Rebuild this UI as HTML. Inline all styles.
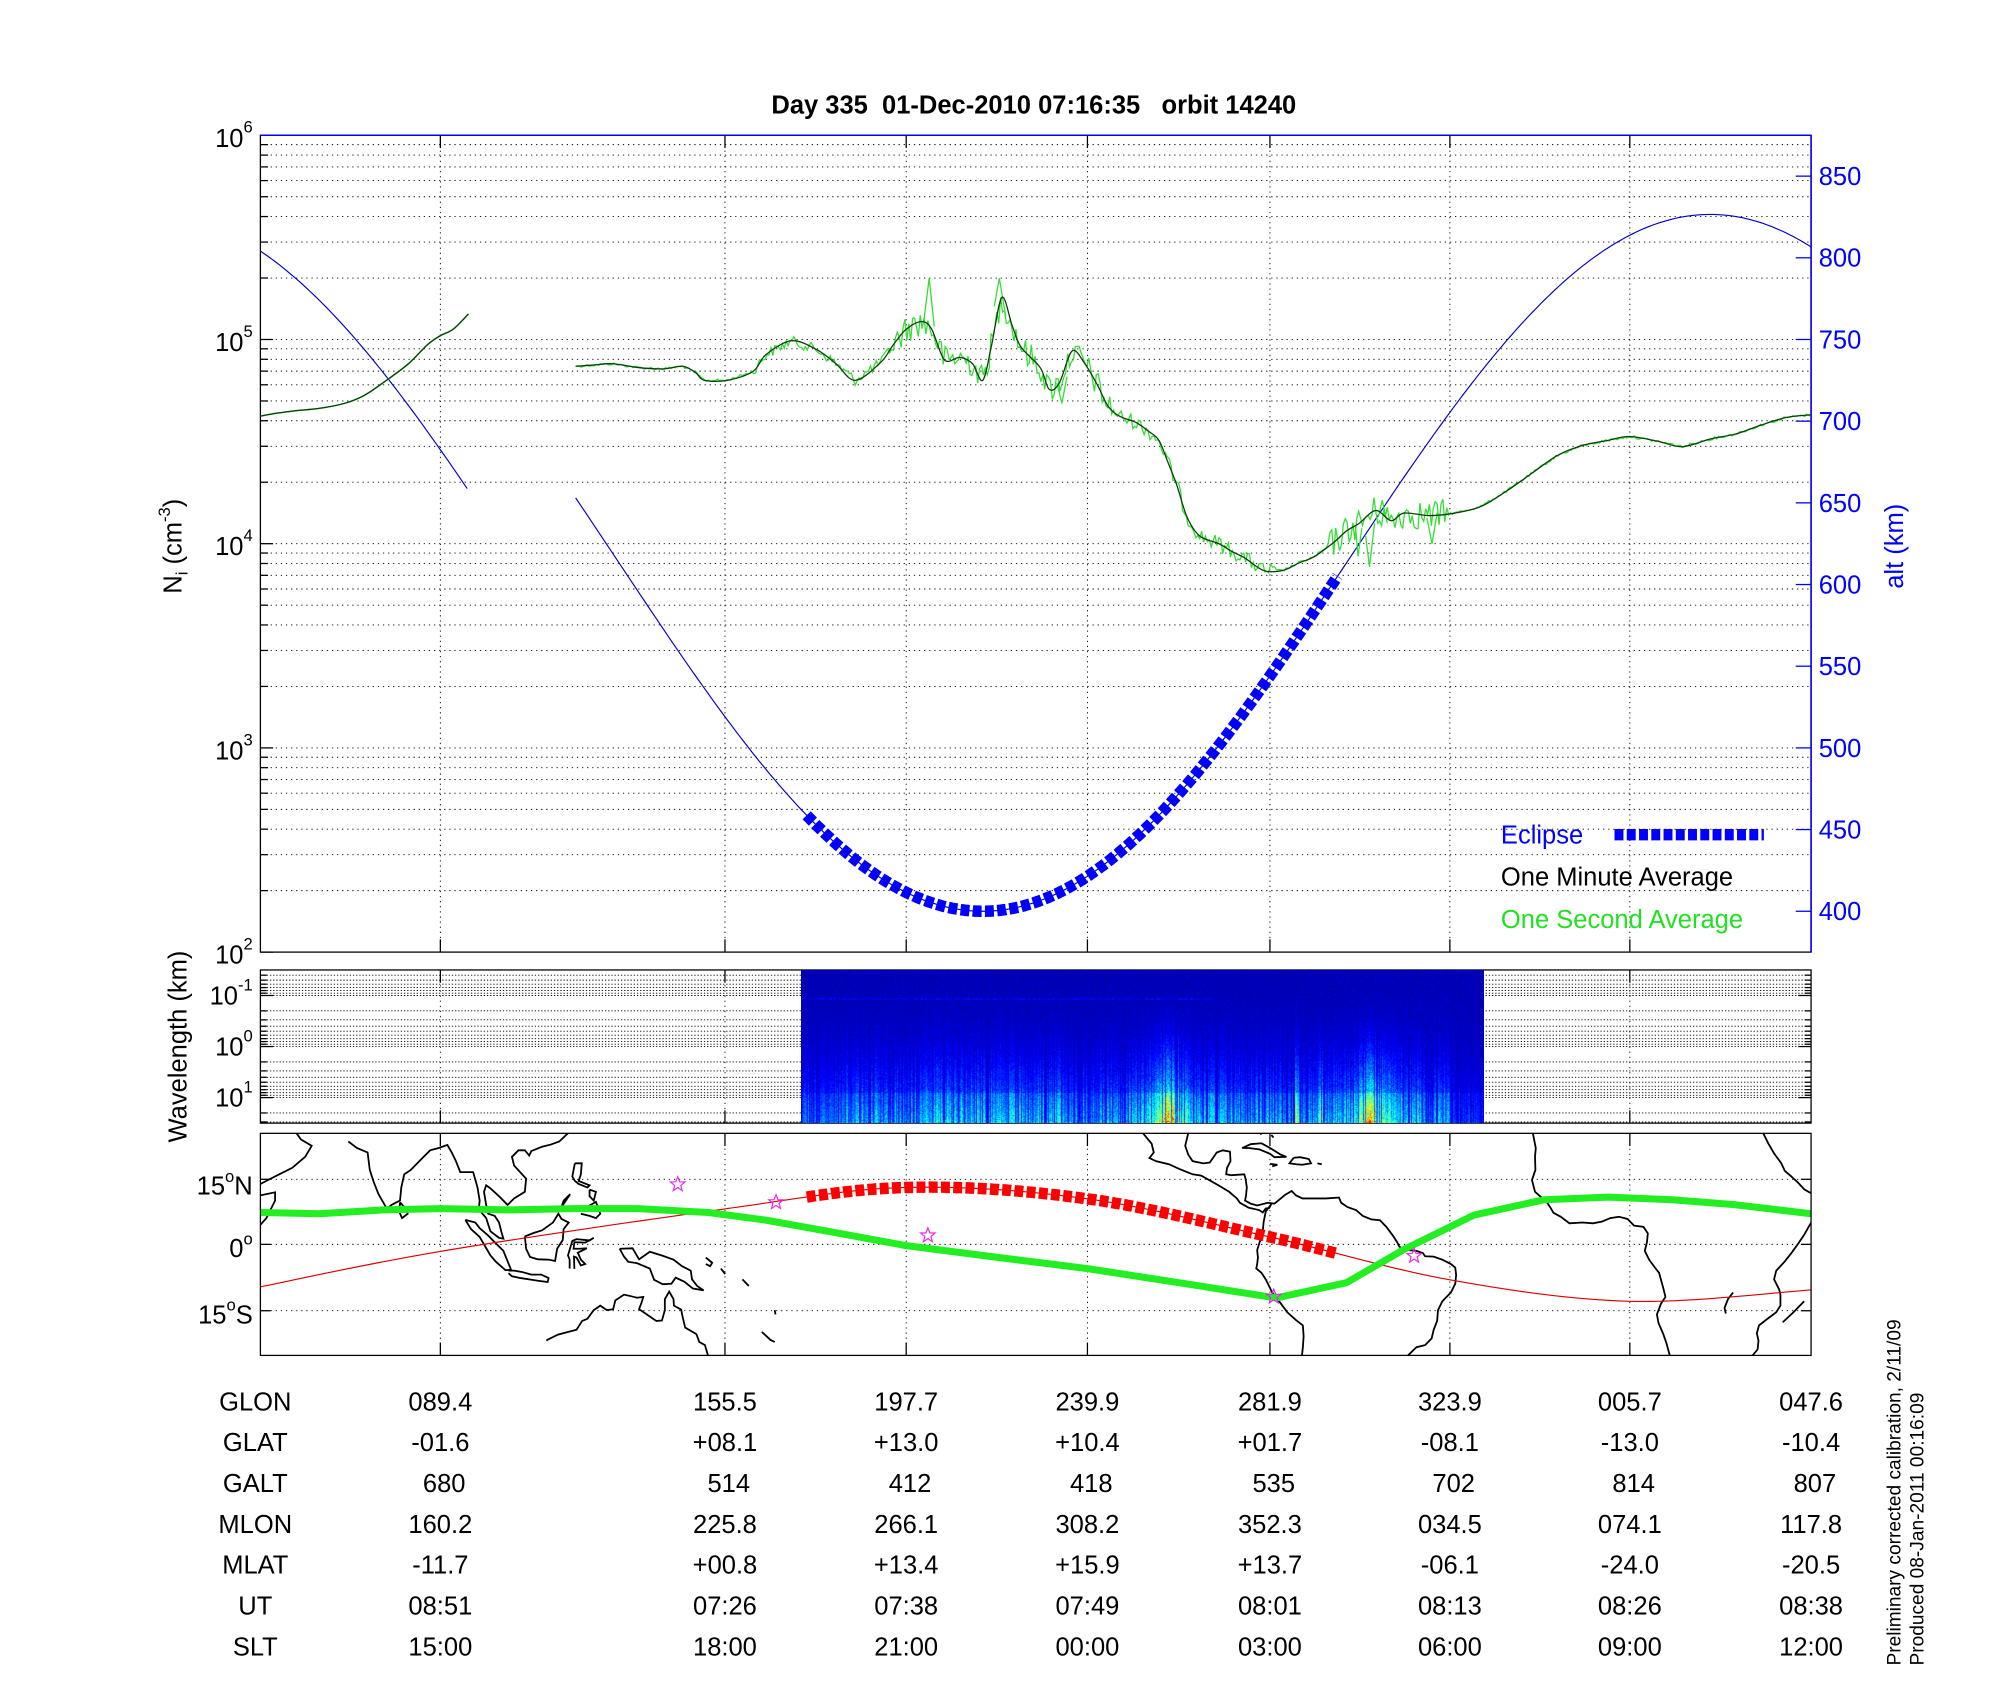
<!DOCTYPE html>
<html><head><meta charset="utf-8">
<style>
html,body{margin:0;padding:0;background:#fff;width:2000px;height:1700px;overflow:hidden}
#wrap{position:relative;width:2000px;height:1700px}
svg{position:absolute;left:0;top:0}
#spec{position:absolute;left:801px;top:970px;width:683px;height:153px}
text{font-family:"Liberation Sans",Arial,sans-serif}
</style></head>
<body><div id="wrap">
<svg id="s" width="2000" height="1700" viewBox="0 0 1567 1332" xmlns="http://www.w3.org/2000/svg">
<defs><clipPath id="mapc"><rect x="204" y="888" width="1215" height="174"/></clipPath>
<clipPath id="topc"><rect x="204" y="106" width="1215" height="640"/></clipPath></defs>
<g id="grid"></g>
<g id="data"></g>
<text x="810" y="89" font-size="20" font-weight="bold" text-anchor="middle" xml:space="preserve">Day 335  01-Dec-2010 07:16:35   orbit 14240</text>
<g font-size="20" text-anchor="end">
<text x="198" y="115">10<tspan font-size="13" dy="-11">6</tspan></text>
<text x="198" y="275">10<tspan font-size="13" dy="-11">5</tspan></text>
<text x="198" y="435">10<tspan font-size="13" dy="-11">4</tspan></text>
<text x="198" y="595">10<tspan font-size="13" dy="-11">3</tspan></text>
<text x="198" y="755">10<tspan font-size="13" dy="-11">2</tspan></text>
<text x="198" y="787">10<tspan font-size="13" dy="-11">-1</tspan></text>
<text x="198" y="827">10<tspan font-size="13" dy="-11">0</tspan></text>
<text x="198" y="867">10<tspan font-size="13" dy="-11">1</tspan></text>
<text x="198" y="936">15<tspan font-size="13" dy="-10">o</tspan><tspan dy="10">N</tspan></text>
<text x="198" y="985">0<tspan font-size="13" dy="-10">o</tspan><tspan dy="10"> </tspan></text>
<text x="198" y="1037">15<tspan font-size="13" dy="-10">o</tspan><tspan dy="10">S</tspan></text>
</g>
<g font-size="20" fill="#0000ff">
<text x="1425" y="145">850</text><text x="1425" y="209">800</text><text x="1425" y="273">750</text>
<text x="1425" y="337">700</text><text x="1425" y="401">650</text><text x="1425" y="465">600</text>
<text x="1425" y="529">550</text><text x="1425" y="593">500</text><text x="1425" y="657">450</text>
<text x="1425" y="721">400</text>
</g>
<text transform="translate(1491,428) rotate(-90)" font-size="20" fill="#0000ff" text-anchor="middle">alt (km)</text>
<text transform="translate(142,428) rotate(-90)" font-size="20" text-anchor="middle">N<tspan font-size="13" dy="5">i</tspan><tspan dy="-5"> (cm</tspan><tspan font-size="13" dy="-9">-3</tspan><tspan dy="9">)</tspan></text>
<text transform="translate(146,820) rotate(-90)" font-size="20" text-anchor="middle">Wavelength (km)</text>
<text x="1176" y="661" font-size="20" fill="#0000ff">Eclipse</text>
<line x1="1265" y1="654" x2="1382" y2="654" stroke="#0000ff" stroke-width="9" stroke-dasharray="7,2.6"/>
<text x="1176" y="694" font-size="20" fill="#000">One Minute Average</text>
<text x="1176" y="727" font-size="20" fill="#22e022">One Second Average</text>
<g id="table" font-size="20" text-anchor="middle"></g>
<text transform="translate(1489,1305) rotate(-90)" font-size="15">Preliminary corrected calibration, 2/11/09</text>
<text transform="translate(1507,1305) rotate(-90)" font-size="15">Produced 08-Jan-2011 00:16:09</text>
</svg>
<canvas id="spec" width="683" height="153"></canvas>
</div>
<script>
(function(){
var G='',D='';
var X0=204,X1=1419;
var vx=[345,568,710,852,995,1136,1277];
function ln(x1,y1,x2,y2,st){return '<line x1="'+x1+'" y1="'+y1+'" x2="'+x2+'" y2="'+y2+'" '+st+'/>';}
var dot='stroke="#000" stroke-width="0.7" stroke-dasharray="1,3"';
var dot2='stroke="#000" stroke-width="0.7" stroke-dasharray="1,1.5"';
for(var d=0;d<4;d++){var base=746-160*d;
 for(var k=1;k<=9;k++){var y=base-160*Math.log10(k);
  if(k>1||d>0)G+=ln(X0,y,X1,y,dot);
  G+=ln(X0,y,X0+(k==1?10:6),y,'stroke="#000" stroke-width="1"');}}
vx.forEach(function(x){G+=ln(x,106,x,746,dot);G+=ln(x,746,x,736,'stroke="#000" stroke-width="1"');G+=ln(x,106,x,116,'stroke="#000" stroke-width="1"');});
for(var a=400;a<=850;a+=50){var y=714-(a-400)*1.28;G+=ln(1419,y,1407,y,'stroke="#0000ff" stroke-width="1"');}
G+='<rect x="204" y="106" width="1215" height="640" fill="none" stroke="#000" stroke-width="1"/>';
G+=ln(204,106,1419,106,'stroke="#0000ff" stroke-width="1.2"')+ln(1419,106,1419,746,'stroke="#0000ff" stroke-width="1.2"');
for(var d=-2;d<=1;d++){var base=780+40*(d+1);
 for(var k=1;k<=9;k++){var y=base+40*Math.log10(k);
  if(y<=760||y>=880)continue;
  G+=ln(X0,y,X1,y,dot2);
  var L=(k==1?10:5);G+=ln(X0,y,X0+L,y,'stroke="#000" stroke-width="1"');G+=ln(X1,y,X1-L,y,'stroke="#000" stroke-width="1"');}}
vx.forEach(function(x){G+=ln(x,760,x,880,dot);G+=ln(x,880,x,870,'stroke="#000"');G+=ln(x,760,x,770,'stroke="#000"');});
G+='<rect x="204" y="760" width="1215" height="120" fill="none" stroke="#000" stroke-width="1"/>';
[924,975,1027].forEach(function(y){G+=ln(X0,y,X1,y,dot);G+=ln(X0,y,X0+8,y,'stroke="#000"');G+=ln(X1,y,X1-8,y,'stroke="#000"');});
vx.forEach(function(x){G+=ln(x,888,x,1062,dot);G+=ln(x,1062,x,1052,'stroke="#000"');G+=ln(x,888,x,898,'stroke="#000"');});
document.getElementById('grid').innerHTML=G;

function cr(p){var d='M'+p[0][0].toFixed(1)+','+p[0][1].toFixed(1);
 for(var i=0;i<p.length-1;i++){var p0=p[i-1]||p[i],p1=p[i],p2=p[i+1],p3=p[i+2]||p2;
  d+=' C'+(p1[0]+(p2[0]-p0[0])/6).toFixed(1)+','+(p1[1]+(p2[1]-p0[1])/6).toFixed(1)+' '+(p2[0]-(p3[0]-p1[0])/6).toFixed(1)+','+(p2[1]-(p3[1]-p1[1])/6).toFixed(1)+' '+p2[0].toFixed(1)+','+p2[1].toFixed(1);}
 return d;}
function pl(p){return 'M'+p.map(function(q){return q[0].toFixed(1)+','+q[1].toFixed(1)}).join(' L');}
function altY(x,sh){return 441+273*Math.cos(Math.PI*(x-770+sh)/570);}
var a1=[],a2=[],ec=[];
for(var x=204;x<=367;x+=3)a1.push([x,altY(x,80)]);
for(var x=451;x<=1419;x+=3)a2.push([x,altY(x,0)]);
a2.push([1419,altY(1419,0)]);
for(var x=632;x<=1048;x+=2)ec.push([x,altY(x,0)]);
var ni1=[[204,326],[215,324],[230,322],[250,320],[270,316],[285,310],[300,300],[320,285],[335,270],[345,263],[355,258],[367,246]];
var ni2=[[451,287],[465,286],[480,285],[500,288],[520,289],[535,287],[545,292],[552,298],[570,298],[590,291],[600,278],[620,267],[640,274],[655,285],[670,298],[690,284],[700,270],[710,258],[722,252],[730,258],[740,282],[752,280],[762,285],[770,298],[777,270],[785,233],[793,255],[800,272],[815,288],[822,305],[830,300],[840,275],[850,285],[860,302],[868,318],[877,326],[890,331],[900,338],[908,345],[915,362],[922,380],[930,405],[940,420],[955,426],[965,432],[975,437],[990,447],[1005,447],[1018,441],[1030,436],[1045,425],[1055,416],[1065,410],[1078,400],[1090,408],[1100,402],[1120,404],[1140,402],[1160,397],[1180,385],[1200,371],[1220,357],[1240,349],[1260,345],[1277,342],[1300,346],[1318,350],[1340,344],[1360,340],[1380,333],[1400,327],[1419,325]];
function interp(p,x){for(var i=0;i<p.length-1;i++){if(x>=p[i][0]&&x<=p[i+1][0]){var t=(x-p[i][0])/(p[i+1][0]-p[i][0]);return p[i][1]+t*(p[i+1][1]-p[i][1]);}}return p[p.length-1][1];}
var seed=12345;function rnd(){seed=(seed*1103515245+12345)%2147483648;return seed/2147483648;}
var g2=[];
for(var x=451;x<=1419;x+=1.5){var y=interp(ni2,x),amp=1;
 if(x>590&&x<700)amp=4;
 if(x>=700&&x<870)amp=11;
 if(x>=870&&x<1000)amp=6;
 if(x>=1040&&x<1135)amp=12;
 y+=(rnd()-0.5)*2*amp;g2.push([x,y]);}
var gp=pl(g2);
var sp='';[[724,250,728,218,732,256],[779,240,783,218,788,248],[828,300,832,316,836,295],[1070,420,1073,444,1077,410],[1080,405,1083,392,1087,410],[1118,406,1122,426,1126,402],[1062,412,1064,436,1067,414]].forEach(function(s){sp+='M'+s[0]+','+s[1]+' L'+s[2]+','+s[3]+' L'+s[4]+','+s[5]+' ';});
D+='<g clip-path="url(#topc)">';
D+='<path d="'+pl(a1)+'" fill="none" stroke="#0000c8" stroke-width="0.9"/>';
D+='<path d="'+pl(a2)+'" fill="none" stroke="#0000c8" stroke-width="0.9"/>';
D+='<path d="'+pl(ec)+'" fill="none" stroke="#0000ff" stroke-width="9" stroke-dasharray="7,2.6"/>';
D+='<path d="'+cr(ni1)+'" fill="none" stroke="#33dd33" stroke-width="1.2"/>';
D+='<path d="'+gp+'" fill="none" stroke="#33dd33" stroke-width="1"/>';
D+='<path d="'+sp+'" fill="none" stroke="#33dd33" stroke-width="1"/>';
D+='<path d="'+cr(ni1)+'" fill="none" stroke="#0b3d0b" stroke-width="1"/>';
D+='<path d="'+cr(ni2)+'" fill="none" stroke="#0b3d0b" stroke-width="1"/>';
D+='</g>';
function mx(l){return 204+(l-47.6)*3.375;} function my(b){return 975-b*3.43;}
function cl(a){var p=[];for(var i=0;i<a.length;i+=2)p.push([mx(a[i]),my(a[i+1])]);return pl(p);}
var coasts=[
[47.6,13.8,50,15,52,16,55,17.5,58,20,59.5,22.5,57,24,56,25.4],
[47.6,11.2,51,11.9,51,10,49,6,47.6,4.5],
[68,23.5,70,22,72.5,21,73,17,74,14,75,11.5,77,8.1,78,9,80,10,80.3,13,81,16,82.5,17,85,19.5,87,21.5,89,22,91,22.7,92,21,93,19,94,16.5,97,16.5,98,13,98.5,10,98.3,8,100,6,101,3,103,1.5,104,1.3,103.5,3,103,5,102,6.5,100.5,7,100,9,99.5,12,100,13.5,101,12.8,103,11,105,9,106.5,10.5,109,12,109.3,15,106.5,18,106,20,107.5,21.5,109,21.5,110,20.3,110.5,21.3,113,22.3,115,22.8,117,23.5,119,25.4],
[80,9.6,81.5,8,81.8,7,80.5,6,79.8,7.5,80,9.6],
[95.2,5.6,97.5,5,98.5,3.7,100.5,2,102,0.5,104,-1.5,105.8,-5.8,104.5,-5.9,102.3,-4,101,-2.5,99.5,0,98.5,1.7,96.5,3.5,95.2,5.6],
[109,1.8,111,2.6,113,3.2,115.5,5,116.8,7,117.5,5.8,119.2,5,118,3.5,117.8,1,116.5,-1,116,-3.8,114.5,-3.5,112,-3.4,110.2,-2.9,109.3,-1,109,1.8],
[105.2,-6,106.5,-6,108.3,-6.3,110.5,-6.9,112.8,-6.9,114.5,-7.7,114.3,-8.6,112,-8.3,110,-8,108,-7.7,106,-7.3,105.2,-6.6],
[119.4,-5.5,119.4,-3.5,119,-2.5,120,0.8,121,1.2,124,0.9,125,1.5,123,0.4,120.5,0.5,120.3,-1,121.6,-1,123.4,-0.9,121.3,-1.9,122,-3.5,123,-4.5,122,-4.8,121,-3,120.4,-2.8,120.5,-5.6],
[120.6,18.5,122.2,18.5,122,16,121.5,14.5,124,13.5,123.5,13,121.5,13.8,120.6,14.5,120,15.5,120.6,18.5],
[122,8,123.5,8.6,125.5,9.7,126.5,7,125.5,6,124,6.5,122,7],
[124,12.5,125.5,12,125,10,124,11,124,12.5],
[118,10,119.5,11.5,117.5,8.5,118,10],
[131,-1,134,-0.9,135.5,-3.4,138,-1.7,141,-2.6,143.5,-3.5,145.5,-5,147.5,-6,147.8,-8,149,-9.5,150.5,-10.5,148,-10.1,146,-8.5,144,-7.6,143,-9,141,-9.1,139,-8.1,138,-5.5,135,-4.3,133,-4,132,-2.8,131,-1],
[114,-22,114.2,-21.8,116.7,-20.6,121,-19.5,122.3,-17.5,123.5,-17,125,-15,126.5,-14,128,-15,129.5,-14.8,130,-12.8,132,-11.5,133.5,-11.8,135,-12.2,136.5,-12,136,-13.5,135.5,-14.8,137,-15.8,139.5,-17.5,140.8,-17.4,141.5,-15,141.5,-12.5,142.5,-10.8,143.5,-12.5,143.6,-14,145.3,-14.9,145.5,-16,146.2,-19,148.8,-20.5,149.5,-22.3,150.8,-23,151.5,-25.4],
[151,-4.5,152,-5,152.5,-4.2,151,-3],[154.5,-5.5,155.5,-6.8],[159.5,-8,161,-9.5],[164,-20,166,-21.8,167,-22.3],[167,-15,167.2,-16],
[252.5,25.4,254.5,23,255,21,254,19.7,255.5,19,258.5,18.3,261,17.2,264,16,266,15.7,268,14.6,270,13.5,272.5,12,274.3,10.5,275,9.5,277,8.4,279.5,7.8,280.3,7.3,281,8.2,281.8,8.3,282.3,9.2,281,7.5,280.5,5,280.3,3,279.8,1.2,279,-1.3,279.2,-3,279,-4.5,278.8,-5.5,280,-6.5,281,-8,282.5,-11,284.5,-13.5,286,-15.5,288,-17.3,289.6,-18.5,289.8,-21,289.6,-23.5,289.4,-25.4],
[263,25.4,262.3,22.5,263,20.5,264,19,266.5,18.5,268,18.7,269.6,21,271,21.5,272.7,21.2,272.8,19,272,17.5,271.8,16,273,15.8,276,16,276.3,15,276.6,13,276.4,11,276.2,10,277.5,9.3,279,8.9,281.5,9.5,283,9.3,284.5,10.5,285.5,11.3,287,12.2,288,11.2,289.5,10.5,292,10.5,295,10.5,298,10.7,298.5,9.5,300,8.5,302,7.8,303.5,6.5,305.5,5.7,307.5,5.5,309,4,310.5,2,311.5,0.5,312,-0.5,313,-1.2,316,-1.5,317.5,-2,318,-2.7,320,-2.8,322,-3.5,324,-4.5,325,-5.3,325.2,-7,325,-9,324,-11,322,-13,321,-15,320.8,-17.5,320,-19.5,319.5,-21.5,318,-23,316,-23.5,314,-25.4],
[275.5,22,277.5,22.9,280,23.1,282,22,284.5,20.5,285.8,20,283,19.9,282,20.7,279.5,21.7,277,22,275.5,22],
[287.5,19.8,289,19.9,291,19.5,291.5,18.5,289.5,18.2,288,18.3,286.5,18.5,287.5,19.8],[282,18.4,283.7,18.2,282.5,17.8],[293,18.5,294,18.3],
[282.3,25,282.8,24.4],[279.7,25.4,280,25.1],
[343,25.4,343.7,22,343.5,20,343.6,17,342.8,14.7,343.5,12,344.7,11,346,10,347,8.5,347.8,7.2,349.5,6.3,351.5,4.8,354.5,5,357,4.8,359,5.2,361,6,363,6.3,365,5.8,366.5,4.3,368.7,4,369.7,2.5,369.5,0.5,369,-1.5,370,-3.5,371.5,-5.5,372.3,-6.5,373.3,-10,373.8,-12,372.8,-13.5,371.8,-16,372.2,-18,373.3,-20.5,374,-22.5,374.8,-25.4],
[396.5,25.4,397.7,23,399,20.8,400.7,18.5,401.5,16.8,403,15.5,404.5,14.2,406,12.6,407,12,407.8,11.6],
[407.6,5,406,2.2,404.5,0,403,-2,401.5,-3.9,399.5,-6,399,-8,400.2,-10.3,400.5,-11.5,400.5,-14,399.5,-15.5,397.5,-17,395.5,-18.5,395,-20.3,395.4,-22,395.2,-24,394,-25.4],
[401,-17.8,403.5,-15.5,406,-13],[389.5,-11,388.3,-12.5,387.5,-14.5,387.8,-15.8],
[413,-12,407.6,-17]
];
D+='<g clip-path="url(#mapc)" fill="none" stroke="#000" stroke-width="1.4">';
coasts.forEach(function(c){D+='<path d="'+cl(c)+'"/>';});
D+='</g>';
var rp=[[204,-9.7],[345,-1.6],[568,8.1],[710,13.0],[852,10.4],[995,1.7],[1136,-8.1],[1277,-13],[1419,-10.4]].map(function(q){return [q[0],my(q[1])];});
D+='<g clip-path="url(#mapc)">';
D+='<path d="'+cr(rp)+'" fill="none" stroke="#dd0000" stroke-width="0.9"/>';
var rd=[];var tmp=document.createElementNS('http://www.w3.org/2000/svg','path');tmp.setAttribute('d',cr(rp));
document.getElementById('s').appendChild(tmp);
var L=tmp.getTotalLength();var s0=null,s1=null;
for(var l=0;l<=L;l+=1){var pt=tmp.getPointAtLength(l);if(pt.x>=632&&s0===null)s0=l;if(pt.x<=1048)s1=l;}
for(var l=s0;l<=s1;l+=2){var pt=tmp.getPointAtLength(l);rd.push([pt.x,pt.y]);}
tmp.parentNode.removeChild(tmp);
D+='<path d="'+pl(rd)+'" fill="none" stroke="#ff0000" stroke-width="9" stroke-dasharray="7,2.6"/>';
var gr=[[204,950],[250,951],[300,948],[345,947],[400,948],[450,947],[500,947],[555,950],[600,956],[650,965],[710,976],[780,985],[852,994],[930,1006],[1000,1017],[1055,1005],[1100,979],[1155,952],[1210,940],[1260,938],[1310,940],[1360,944],[1419,951]];
D+='<path d="'+pl(gr)+'" fill="none" stroke="#22ee22" stroke-width="5.5" stroke-linejoin="round"/>';
function star(cx,cy,r){var p=[];for(var i=0;i<10;i++){var a=-Math.PI/2+i*Math.PI/5,rr=i%2?r*0.42:r;p.push([cx+rr*Math.cos(a),cy+rr*Math.sin(a)]);}return pl(p)+'Z';}
[[531,928],[608,942],[727,968],[998,1016],[1108,984]].forEach(function(s){D+='<path d="'+star(s[0],s[1],6)+'" fill="none" stroke="#ee22ee" stroke-width="0.9"/>';});
D+='</g>';
D+='<rect x="204" y="888" width="1215" height="174" fill="none" stroke="#000" stroke-width="1"/>';
document.getElementById('data').innerHTML=D;
var rows=[['GLON','089.4','155.5','197.7','239.9','281.9','323.9','005.7','047.6'],
['GLAT','-01.6','+08.1','+13.0','+10.4','+01.7','-08.1','-13.0','-10.4'],
['GALT','680','514','412','418','535','702','814','807'],
['MLON','160.2','225.8','266.1','308.2','352.3','034.5','074.1','117.8'],
['MLAT','-11.7','+00.8','+13.4','+15.9','+13.7','-06.1','-24.0','-20.5'],
['UT','08:51','07:26','07:38','07:49','08:01','08:13','08:26','08:38'],
['SLT','15:00','18:00','21:00','00:00','03:00','06:00','09:00','12:00']];
var cx=[200,345,568,710,852,995,1136,1277,1419];
var T='';rows.forEach(function(r,i){var y=1105+32*i;r.forEach(function(t,j){var x=cx[j]+((i==2&&j>0)?3:0);T+='<text x="'+x+'" y="'+y+'">'+t+'</text>';});});
document.getElementById('table').innerHTML=T;
// spectrogram
var c=document.getElementById('spec').getContext('2d');var W=683,H=153;
function jet(v){v=Math.max(0,Math.min(1,v));function f(t){return Math.max(0,Math.min(1,1.5-Math.abs(t)));}return [f(4*v-3)*255,f(4*v-2)*255,f(4*v-1)*255];}
var img=c.createImageData(W,H);
var act=[];seed=777;
for(var x=0;x<W;x++){var fx=x/W;var a=0.2+0.3*rnd();
 if(fx<0.05)a*=0.8;
 if(fx>0.18&&fx<0.38)a+=0.08;
 a+=0.45*Math.exp(-Math.pow((fx-0.54)/0.02,2))+0.15*Math.exp(-Math.pow((fx-0.54)/0.06,2));
 a+=0.45*Math.exp(-Math.pow((fx-0.835)/0.018,2))+0.18*Math.exp(-Math.pow((fx-0.84)/0.05,2));
 if(Math.abs(fx-0.725)<0.003||Math.abs(fx-0.76)<0.003)a+=0.4;
 if(fx>0.95)a*=0.5;
 if(rnd()<0.2)a*=0.35;
 act.push(a);}
for(var y=0;y<H;y++){var fy=y/H;
 for(var x=0;x<W;x++){var a=act[x];
  var h=Math.pow(fy,2.5);
  var v=0.03+0.05*rnd()+a*h*0.75*(0.5+0.5*rnd());
  if(fy>0.8)v+=0.1*a;
  if(y>=28&&y<=29&&x<W*0.6)v+=0.08*rnd();
  var col=jet(v);var i=(y*W+x)*4;img.data[i]=col[0];img.data[i+1]=col[1];img.data[i+2]=col[2];img.data[i+3]=255;}}
c.putImageData(img,0,0);
})();
</script>
</body></html>
